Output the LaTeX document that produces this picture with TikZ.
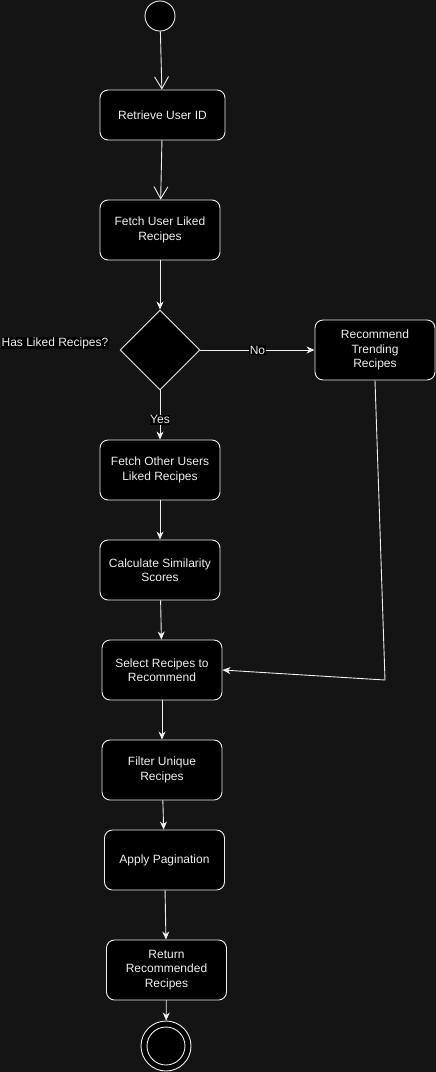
\documentclass[tikz,border=0pt]{standalone}
\usepackage{fontspec}
\setmainfont{Liberation Sans}
\usetikzlibrary{arrows.meta}
\usetikzlibrary{shapes.geometric}
\definecolor{canvas}{HTML}{141414}
\definecolor{ink}{HTML}{EEEEEE}

\begin{document}
\begin{tikzpicture}[
     x=1pt,y=-1pt,
     act/.style={draw=ink,fill=black,rounded corners=8pt,line width=0.9pt,
       minimum width=120pt,minimum height=60pt,inner sep=2pt,
       text=ink,align=center,font=\fontsize{12}{14.5}\selectfont},
     dec/.style={diamond,aspect=1,draw=ink,fill=black,line width=0.9pt,
       minimum size=80pt,inner sep=0pt},
     lbl/.style={fill=black,text=ink,inner sep=0.5pt,font=\fontsize{12}{14}\selectfont},
     flow/.style={draw=ink,line width=0.9pt,-{Stealth[length=8pt,width=7pt,inset=2.5pt]}},
     open/.style={draw=ink,line width=0.9pt,-{Straight Barb[length=12pt,width=14pt]}}
   ]
   \path[use as bounding box,fill=canvas] (0,0) rectangle (436,1072);
   % Start and actions.
   \node[circle,draw=ink,fill=black,line width=0.9pt,minimum size=30pt,inner sep=0pt] (start) at (160,16) {};
   \node[act,minimum width=125pt,minimum height=50pt] (retrieve) at (162.5,115) {Retrieve User ID};
   \node[act] (liked) at (160,230) {Fetch User Liked\\Recipes};
   \node[dec] (has) at (160,350) {};
   \node[lbl] (hasq) at (55,343) {Has Liked Recipes?};
   \node[act] (trending) at (375,350) {Recommend\\Trending\\Recipes};
   \node[act] (others) at (160,470) {Fetch Other Users\\Liked Recipes};
   \node[act] (scores) at (160,570) {Calculate Similarity\\Scores};
   \node[act] (select) at (162,670) {Select Recipes to\\Recommend};
   \node[act] (unique) at (162,770) {Filter Unique\\Recipes};
   \node[act] (paging) at (164.5,860) {Apply Pagination};
   \node[act] (result) at (166.5,970) {Return\\Recommended\\Recipes};
   % Final state.
   \node[circle,draw=ink,fill=black,line width=0.9pt,minimum size=50pt,inner sep=0pt] (final) at (166,1046) {};
   \node[circle,draw=ink,fill=black,line width=0.9pt,minimum size=38pt,inner sep=0pt] (finalin) at (166,1046) {};
   \coordinate (bend) at (385,680);
   % Transitions.
   \draw[open] (start) -- (retrieve);
   \draw[open] (retrieve) -- (liked);
   \draw[flow] (liked) -- (has);
   \draw[flow] (has) -- node[lbl] {No} (trending);
   \draw[flow] (has) -- node[lbl,pos=0.6] {Yes} (others);
   \draw[flow] (others) -- (scores);
   \draw[flow] (scores) -- (select);
   \draw[flow] (trending.south) -- (bend) -- (select.east);
   \draw[flow] (select) -- (unique);
   \draw[flow] (unique) -- (paging);
   \draw[flow] (paging) -- (result);
   \draw[flow] (result) -- (final);
 \end{tikzpicture}
\end{document}
